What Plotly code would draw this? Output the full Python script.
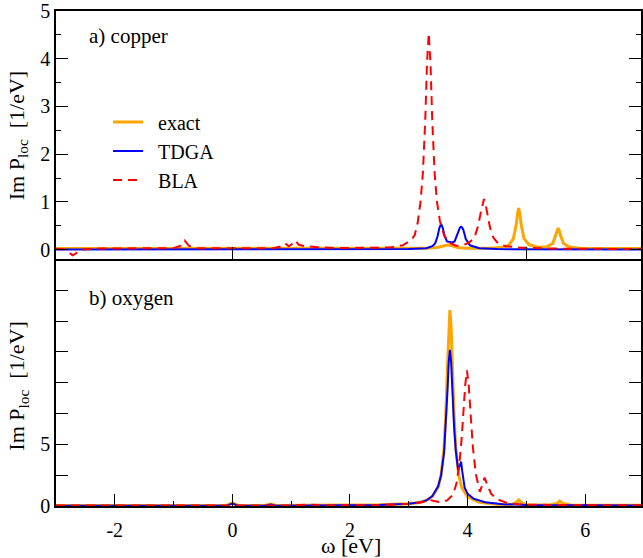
import plotly.graph_objects as go

# ---------------- data ----------------
# a) copper
cu_exact_w = [-3.0, -1.0, 0.0, 1.0, 3.0, 3.3, 3.5, 3.6, 3.68, 3.76, 3.85, 4.0, 4.4, 4.6, 4.7, 4.78,
              4.83, 4.85, 4.87, 4.89, 4.91, 4.96, 5.05, 5.2, 5.35, 5.45, 5.5, 5.52, 5.54, 5.56, 5.58,
              5.63, 5.72, 5.9, 6.3, 7.0]
cu_exact_v = [0.02, 0.02, 0.02, 0.02, 0.02, 0.03, 0.05, 0.08, 0.10, 0.07, 0.04, 0.03, 0.03, 0.05, 0.09, 0.23,
              0.54, 0.75, 0.87, 0.75, 0.54, 0.23, 0.10, 0.05, 0.06, 0.13, 0.30, 0.40, 0.45, 0.40, 0.30,
              0.13, 0.06, 0.03, 0.02, 0.02]

cu_tdga_w = [-3.0, 0.0, 3.0, 3.3, 3.4, 3.45, 3.49, 3.52, 3.55, 3.58, 3.61, 3.65, 3.7, 3.74, 3.78,
             3.82, 3.85, 3.87, 3.89, 3.91, 3.93, 3.97, 4.04, 4.2, 4.5, 7.0]
cu_tdga_v = [0.0, 0.0, 0.01, 0.03, 0.07, 0.13, 0.28, 0.45, 0.54, 0.45, 0.28, 0.17, 0.15, 0.15, 0.17,
             0.29, 0.41, 0.46, 0.48, 0.46, 0.41, 0.22, 0.09, 0.03, 0.01, 0.0]

cu_bla_w = [-3.0, -2.85, -2.78, -2.72, -2.66, -2.55, -2.3, -1.0, -0.88, -0.81, -0.74, -0.6, 0.7, 0.84,
            0.9, 0.96, 1.02, 1.07, 1.13, 1.24, 1.45, 1.8, 2.5, 2.7, 2.9, 3.04, 3.1, 3.15, 3.2, 3.24,
            3.28, 3.31, 3.34, 3.37, 3.4, 3.44, 3.48, 3.53, 3.6, 3.7, 3.8, 3.9, 4.0, 4.08, 4.13, 4.18,
            4.23, 4.26, 4.28, 4.3, 4.33, 4.38, 4.44, 4.52, 4.65, 4.9, 5.5, 7.0]
cu_bla_v = [0.02, 0.0, -0.06, -0.12, -0.08, 0.0, 0.02, 0.03, 0.08, 0.19, 0.08, 0.03, 0.03, 0.07,
            0.13, 0.07, 0.12, 0.19, 0.10, 0.07, 0.05, 0.03, 0.04, 0.05, 0.09, 0.20, 0.30, 0.55, 1.0, 1.6,
            2.7, 3.9, 4.54, 3.9, 2.7, 1.6, 1.0, 0.6, 0.3, 0.14, 0.08, 0.08, 0.13, 0.20, 0.30, 0.50,
            0.81, 0.99, 1.06, 0.99, 0.81, 0.47, 0.25, 0.13, 0.07, 0.04, 0.02, 0.01]

# b) oxygen
o_exact_w = [-3.0, -0.1, 0.0, 0.1, 0.55, 0.65, 0.75, 1.5, 2.5, 3.0, 3.2, 3.3, 3.4, 3.5, 3.55, 3.6,
             3.63, 3.66, 3.68, 3.70, 3.72, 3.74, 3.77, 3.8, 3.85, 3.9, 4.0, 4.2, 4.5, 4.75, 4.83,
             4.87, 4.91, 5.0, 5.4, 5.52, 5.57, 5.62, 5.75, 7.0]
o_exact_v = [0.05, 0.05, 0.25, 0.05, 0.05, 0.15, 0.05, 0.05, 0.10, 0.18, 0.30, 0.45, 0.75, 1.55, 2.5, 4.7,
             7.4, 11.5, 14.5, 15.9, 14.5, 11.5, 7.4, 4.7, 2.5, 1.5, 0.75, 0.30, 0.15, 0.12, 0.30,
             0.50, 0.30, 0.10, 0.08, 0.20, 0.40, 0.20, 0.08, 0.05]

o_tdga_w = [-3.0, -1.0, -0.1, 0.0, 0.1, 0.55, 0.65, 0.75, 1.5, 2.5, 3.0, 3.2, 3.3, 3.4, 3.5, 3.55,
            3.6, 3.63, 3.66, 3.68, 3.70, 3.72, 3.74, 3.77, 3.8, 3.84, 3.87, 3.89, 3.91, 3.95, 4.0,
            4.1, 4.3, 4.6, 5.0, 7.0]
o_tdga_v = [0.02, 0.02, 0.02, 0.20, 0.02, 0.02, 0.12, 0.02, 0.03, 0.08, 0.18, 0.30, 0.45, 0.80, 1.6, 2.5,
            4.3, 6.5, 9.5, 11.7, 12.66, 11.7, 9.5, 6.5, 4.5, 2.9, 3.3, 3.6, 2.8, 1.5, 1.0,
            0.6, 0.3, 0.15, 0.08, 0.03]

o_bla_w = [-3.0, 0.0, 1.0, 1.3, 1.6, 2.5, 2.9, 3.1, 3.25, 3.35, 3.45, 3.55, 3.65, 3.75, 3.81, 3.86,
           3.9, 3.93, 3.96, 3.99, 4.02, 4.05, 4.09, 4.14, 4.21, 4.25, 4.29, 4.33, 4.4, 4.5, 4.7,
           5.0, 6.0, 7.0]
o_bla_v = [0.05, 0.05, 0.05, 0.12, 0.05, 0.07, 0.12, 0.20, 0.35, 0.50, 0.38, 0.30, 0.45, 0.90, 1.8, 3.4,
           5.5, 7.6, 9.8, 11.0, 9.8, 7.6, 4.8, 2.6, 1.15, 1.7, 2.3, 1.8, 1.0, 0.55, 0.2,
           0.1, 0.06, 0.05]

series_names = ["exact", "TDGA", "BLA"]
top_y_ticks = [0, 1, 2, 3, 4, 5]
bot_y_tickvals = [0, 2.5, 5, 7.5, 10, 12.5, 15, 17.5]
bot_y_ticktext = ["0", "", "5", "", "", "", "", ""]
x_tickvals = [-2, 0, 2, 4, 6]
x_ticktext = ["-2", "0", "2", "4", "6"]

# ---------------- figure ----------------
FONT = "'Liberation Serif', 'DejaVu Serif', 'Times New Roman', serif"
ORANGE, BLUE, RED = "#FFA500", "#0000FF", "#FF0000"
styles = [dict(color=ORANGE, width=3), dict(color=BLUE, width=2),
          dict(color=RED, width=2, dash="9px,6px")]

fig = go.Figure()
top = [(cu_exact_w, cu_exact_v), (cu_tdga_w, cu_tdga_v), (cu_bla_w, cu_bla_v)]
bot = [(o_exact_w, o_exact_v), (o_tdga_w, o_tdga_v), (o_bla_w, o_bla_v)]
for (w, v), name, st in zip(top, series_names, styles):
    fig.add_trace(go.Scatter(x=w, y=v, mode="lines", name="\u00a0\u00a0" + name, line=st,
                             xaxis="x", yaxis="y", showlegend=True))
for (w, v), name, st in zip(bot, series_names, styles):
    fig.add_trace(go.Scatter(x=w, y=v, mode="lines", name=name, line=st,
                             xaxis="x2", yaxis="y2", showlegend=False))

common = dict(showgrid=False, zeroline=False, showline=True, linecolor="black",
              ticks="inside", tickcolor="black", tickwidth=1.2, ticklabeloverflow="allow",
              tickfont=dict(family=FONT, size=20, color="black"))
XR = [-3, 6.95]

fig.update_layout(
    width=643, height=558,
    margin=dict(l=56, r=0, t=8, b=52),
    paper_bgcolor="white", plot_bgcolor="white",
    font=dict(family=FONT, size=20, color="black"),
    xaxis=dict(domain=[0, 1], anchor="y", range=XR, tickvals=[0, 5], ticklen=12, linewidth=2,
               showticklabels=False, mirror=True, **common),
    yaxis=dict(domain=[0.498, 1], anchor="x", range=[-0.208, 5.002], tickvals=top_y_ticks,
               ticktext=[str(t) for t in top_y_ticks], ticklen=12, linewidth=1.6,
               minor=dict(ticks="inside", ticklen=5, dtick=0.5, tick0=0, tickcolor="black"),
               mirror="ticks", **common),
    xaxis2=dict(domain=[0, 1], anchor="y2", range=XR, tickvals=x_tickvals, ticktext=x_ticktext,
                ticklen=12, linewidth=1.6, ticklabelstandoff=5,
                minor=dict(ticks="inside", ticklen=5, tickvals=[-1, 1, 3, 5], tickcolor="black"),
                mirror=False, **common),
    yaxis2=dict(domain=[0, 0.498], anchor="x2", range=[0, 20], tickmode="array",
                tickvals=bot_y_tickvals, ticktext=bot_y_ticktext, ticklen=12, linewidth=1.6,
                mirror="ticks", **common),
    legend=dict(x=0.089, y=0.815, xanchor="left", yanchor="top", bgcolor="rgba(0,0,0,0)",
                font=dict(family=FONT, size=20, color="black"), tracegroupgap=0),
    showlegend=True,
)

ytitle = "Im P<sub>loc</sub>\u00a0\u00a0[1/eV]"
fig.add_annotation(text="a) copper", xref="paper", yref="paper", x=0.053, y=0.95,
                   xanchor="left", yanchor="middle", showarrow=False,
                   font=dict(family=FONT, size=21, color="black"))
fig.add_annotation(text="b) oxygen", xref="paper", yref="paper", x=0.053, y=0.42,
                   xanchor="left", yanchor="middle", showarrow=False,
                   font=dict(family=FONT, size=21, color="black"))
fig.add_annotation(text=ytitle, xref="paper", yref="paper", x=-0.065, y=0.749,
                   xanchor="center", yanchor="middle", textangle=-90, showarrow=False,
                   font=dict(family=FONT, size=22, color="black"))
fig.add_annotation(text=ytitle, xref="paper", yref="paper", x=-0.065, y=0.243,
                   xanchor="center", yanchor="middle", textangle=-90, showarrow=False,
                   font=dict(family=FONT, size=22, color="black"))
fig.add_annotation(text="\u03c9 [eV]", xref="paper", yref="paper", x=0.505, y=-0.08,
                   xanchor="center", yanchor="middle", showarrow=False,
                   font=dict(family=FONT, size=22, color="black"))

fig.write_html("out.html", config={"displayModeBar": False},
               post_script="document.body.style.margin='0';document.body.style.overflow='hidden';")
